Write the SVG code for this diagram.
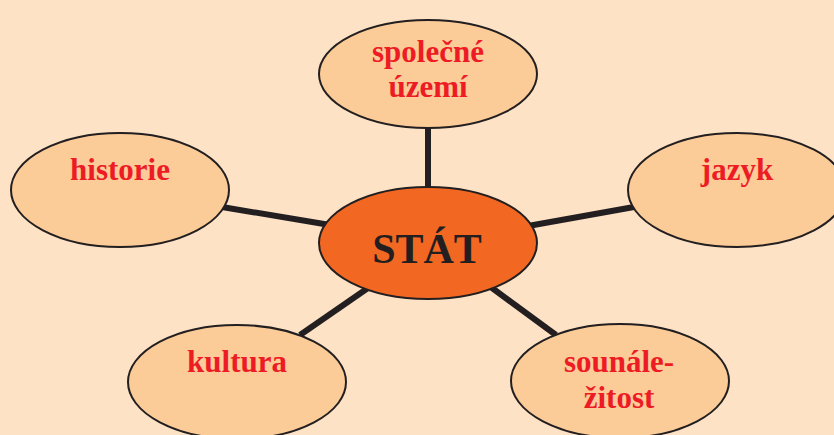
<svg xmlns="http://www.w3.org/2000/svg" width="834" height="435" viewBox="0 0 834 435">
<style>
.outer{fill:#FBCB98;stroke:#231F20;stroke-width:2}
.center{fill:#F26822;stroke:#231F20;stroke-width:2}
.lbl{font-family:"Liberation Serif","Times New Roman",serif;font-weight:bold;font-size:31px;fill:#ED1C24;text-anchor:middle}
.main{font-family:"Liberation Serif","Times New Roman",serif;font-weight:bold;font-size:42px;fill:#231F20;text-anchor:middle}
.conn{stroke:#231F20;stroke-width:6;fill:none}
</style>
<rect width="834" height="435" fill="#FDE2C6"/>
<g id="connectors">
<line class="conn" x1="428" y1="125" x2="428" y2="190"/>
<line class="conn" x1="222" y1="207" x2="330" y2="225"/>
<line class="conn" x1="528" y1="226" x2="634" y2="207"/>
<line class="conn" x1="300" y1="335" x2="368" y2="288"/>
<line class="conn" x1="488" y1="285" x2="556" y2="335"/>
</g>
<g id="n-stat">
<ellipse class="center" cx="428" cy="243" rx="109" ry="56"/>
<text class="main" x="427" y="263">STÁT</text>
</g>
<g id="n-uzemi">
<ellipse class="outer" cx="428" cy="74" rx="109" ry="54"/>
<text class="lbl" x="428" y="62">společné</text>
<text class="lbl" x="428" y="97">území</text>
</g>
<g id="n-historie">
<ellipse class="outer" cx="120" cy="190" rx="109" ry="57"/>
<text class="lbl" x="120" y="180">historie</text>
</g>
<g id="n-jazyk">
<ellipse class="outer" cx="737" cy="190" rx="109" ry="57"/>
<text class="lbl" x="737" y="180">jazyk</text>
</g>
<g id="n-kultura">
<ellipse class="outer" cx="237" cy="382" rx="109" ry="57"/>
<text class="lbl" x="237" y="372">kultura</text>
</g>
<g id="n-sounalezitost">
<ellipse class="outer" cx="620" cy="381" rx="109" ry="57"/>
<text class="lbl" x="619" y="372">sounále-</text>
<text class="lbl" x="619" y="408">žitost</text>
</g>
</svg>
